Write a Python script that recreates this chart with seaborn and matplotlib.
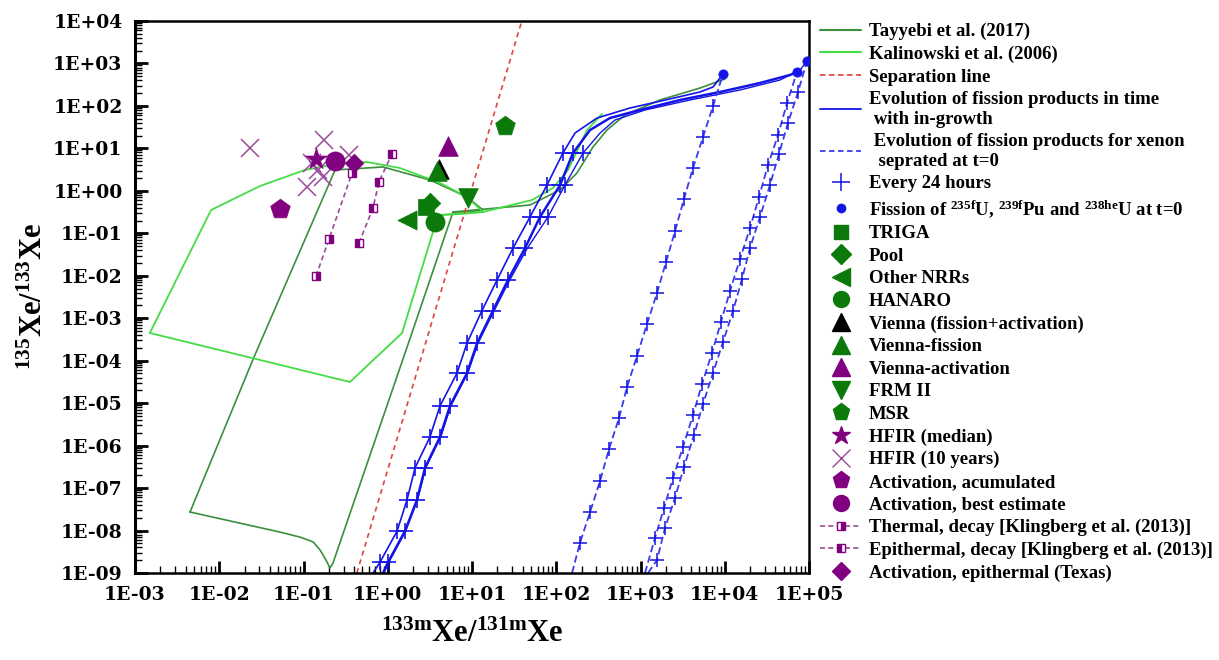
import numpy as np
import pandas as pd
import matplotlib
matplotlib.use("Agg")
import matplotlib.pyplot as plt
import seaborn as sns
from matplotlib.lines import Line2D
from matplotlib.ticker import LogLocator, FuncFormatter, NullFormatter

# ---------------- data ----------------
# Tayyebi et al. (2017) region outline and tail
tay_x = [4.5e-3, 0.025, 0.237, 0.879, 3.17, 8.73, 13.5, 9.47, 5.95, 1.99, 0.224, 0.206, 0.185, 0.157, 0.13, 0.091, 0.0526, 4.5e-3]
tay_y = [2.73e-8, 1.04e-4, 3.10, 3.65, 1.80, 0.716, 0.354, 0.318, 0.318, 5.28e-4, 1.72e-9, 1.31e-9, 2.02e-9, 3.5e-9, 5.4e-9, 7.0e-9, 9.2e-9, 2.73e-8]
tay_tail_x = [5.95, 48.8, 111, 176, 273, 400, 655, 1702, 5080, 10070]
tay_tail_y = [0.318, 0.464, 1.05, 2.63, 10.8, 27.1, 61.1, 138, 264, 431]

# Kalinowski et al. (2006) region outline and tail
kal_x = [1.5e-3, 8.0e-3, 0.0305, 0.104, 0.271, 0.567, 1.40, 4.17, 8.73, 13.5, 7.21, 4.17, 3.44, 1.48, 0.356, 1.5e-3]
kal_y = [4.49e-4, 0.354, 1.30, 3.10, 4.52, 4.78, 3.45, 1.53, 0.716, 0.318, 0.285, 0.27, 0.107, 4.49e-4, 3.15e-5, 4.49e-4]
kal_tail_x = [4.17, 13.5, 51.5, 91.5, 138, 232, 349]
kal_tail_y = [0.27, 0.318, 0.608, 1.17, 3.10, 27.1, 64.6]

# Separation line
sep_x = [0.43, 39]
sep_y = [1e-9, 1e4]

# Evolution with in-growth (solid blue), vertices include the 24 h points
s1_x = [0.668, 0.81, 1.29, 1.69, 2.11, 3.17, 4.17, 6.64, 8.73, 13.1, 19.8, 30.7, 48.8, 77.6, 120, 167, 305, 750, 2240, 5080, 7260, 9530]
s1_y = [1e-9, 1.8e-9, 9.7e-9, 5.2e-8, 3.0e-7, 1.6e-6, 8.6e-6, 5.1e-5, 2.6e-4, 1.5e-3, 7.9e-3, 0.045, 0.242, 1.37, 7.78, 23.0, 51.9, 89.3, 146, 213, 279, 565]
s2_x = [0.879, 1.01, 1.60, 2.22, 2.77, 4.17, 5.48, 8.73, 11.5, 17.7, 26.7, 42.6, 64.1, 111, 158, 252, 434, 986, 2940, 8790, 26200, 59400, 72100]
s2_y = [1e-9, 1.8e-9, 9.7e-9, 5.2e-8, 3.0e-7, 1.6e-6, 8.6e-6, 5.1e-5, 2.6e-4, 1.5e-3, 7.9e-3, 0.045, 0.242, 1.37, 7.78, 27.1, 51.9, 80.2, 138, 213, 347, 535, 629]
s3_x = [0.90, 1.03, 1.63, 2.25, 2.82, 4.25, 5.6, 8.9, 11.8, 18.3, 28.0, 45.5, 79.8, 127, 208, 331, 498, 1130, 3870, 15170, 45300, 78200, 94700]
s3_y = [1e-9, 1.8e-9, 9.7e-9, 5.2e-8, 3.0e-7, 1.6e-6, 8.6e-6, 5.1e-5, 2.6e-4, 1.5e-3, 7.9e-3, 0.045, 0.242, 1.37, 7.78, 23.0, 46.6, 80.2, 138, 237, 408, 701, 1142]

# Xenon separated at t=0 (dashed blue)
d1_x = [154, 191, 252, 331, 423, 556, 692, 908, 1194, 1570, 2010, 2570, 3280, 4200, 5520, 7260, 9530]
d1_y = [1e-9, 5.08e-9, 2.73e-8, 1.47e-7, 8.3e-7, 4.47e-6, 2.4e-5, 1.29e-4, 7.3e-4, 3.93e-3, 0.0211, 0.113, 0.643, 3.45, 18.5, 99.5, 565]
d2_x = [1130, 1486, 1901, 2432, 3193, 4198, 5370, 7060, 9020, 11540, 15170, 19950, 25500, 32600, 42900, 54800, 72100]
d2_y = [1e-9, 6.67e-9, 3.39e-8, 1.73e-7, 9.3e-7, 5.26e-6, 2.82e-5, 1.52e-4, 8.15e-4, 4.38e-3, 0.0248, 0.133, 0.716, 4.06, 20.6, 117, 629]
d3_x = [1227, 1570, 1954, 2566, 3282, 4315, 5520, 7260, 9530, 12530, 16030, 19950, 26200, 34400, 44000, 56300, 74000, 94700]
d3_y = [1e-9, 2.02e-9, 1.15e-8, 5.83e-8, 3.13e-7, 1.78e-6, 9.55e-6, 5.13e-5, 2.75e-4, 1.48e-3, 8.4e-3, 0.0451, 0.242, 1.37, 7.38, 39.6, 213, 1142]

# Fission at t=0
fis_x = [9530, 72100, 94700]
fis_y = [565, 629, 1142]

# Klingberg et al. (2013)
therm_x = [0.141, 0.201, 0.377]
therm_y = [0.0099, 0.0735, 2.63]
epi_x = [0.456, 0.668, 0.787, 1.12]
epi_y = [0.059, 0.394, 1.62, 7.4]

# Reactor / activation points
triga_x, triga_y = [2.84], [0.416]
pool_x, pool_y = [3.17], [0.517]
nrr_x, nrr_y = [1.69], [0.206]
hanaro_x, hanaro_y = [3.64], [0.185]
vfa_x, vfa_y = [4.06], [3.27]
vf_x, vf_y = [3.85], [2.93]
va_x, va_y = [5.19], [11.4]
frm_x, frm_y = [8.96], [0.678]
msr_x, msr_y = [24.7], [33.7]
hfir_med_x, hfir_med_y = [0.141], [5.6]
hfir10_x = [0.0232, 0.175, 0.347, 0.126, 0.149, 0.17, 0.110]
hfir10_y = [10.2, 15.7, 6.98, 4.5, 3.1, 2.12, 1.23]
act_acc_x, act_acc_y = [0.0526], [0.373]
act_best_x, act_best_y = [0.237], [5.05]
texas_x, texas_y = [0.40], [4.5]

x_ticks = [1e-3, 1e-2, 1e-1, 1e0, 1e1, 1e2, 1e3, 1e4, 1e5]
y_ticks = [1e-9, 1e-8, 1e-7, 1e-6, 1e-5, 1e-4, 1e-3, 1e-2, 1e-1, 1e0, 1e1, 1e2, 1e3, 1e4]

# ---------------- style ----------------
sns.set_theme(style="white")
plt.rcParams["font.family"] = ["Liberation Serif", "DejaVu Serif"]
plt.rcParams["font.weight"] = "bold"
plt.rcParams["mathtext.fontset"] = "custom"
plt.rcParams["mathtext.rm"] = "Liberation Serif:bold"
plt.rcParams["mathtext.bf"] = "Liberation Serif:bold"
plt.rcParams["mathtext.it"] = "Liberation Serif:bold:italic"

GREEN = "#0b7a0b"
PURPLE = "#800080"
PURPLE_L = "#9a4a9a"
TAY = "#3c8f3c"
KAL = "#45dc45"
BLUE = "#1414e6"
BLUE_D = "#3a3aee"
RED = "#e04444"

fig = plt.figure(figsize=(12.19, 6.6), dpi=100)
ax = fig.add_axes([135 / 1219, 1 - 573 / 660, 674 / 1219, 552 / 660])
ax.set_xscale("log")
ax.set_yscale("log")


def draw_line(xs, ys, color, lw, ls="-", **kw):
    df = pd.DataFrame({"x": xs, "y": ys})
    sns.lineplot(data=df, x="x", y="y", sort=False, estimator=None, color=color,
                 linewidth=lw, linestyle=ls, ax=ax, legend=False, **kw)


def draw_pts(xs, ys, marker, color, s, z=5):
    df = pd.DataFrame({"x": xs, "y": ys})
    sns.scatterplot(data=df, x="x", y="y", marker=marker, color=color, s=s,
                    edgecolor=color, linewidth=0.5, ax=ax, legend=False, zorder=z)


# regions
draw_line(tay_x, tay_y, TAY, 1.2)
draw_line(tay_tail_x, tay_tail_y, TAY, 1.2)
draw_line(kal_x, kal_y, KAL, 1.3)
draw_line(kal_tail_x, kal_tail_y, KAL, 1.3)

# separation
draw_line(sep_x, sep_y, RED, 1.2, ls=(0, (3, 2.5)))

# in-growth lines with 24 h markers
plus_kw = dict(marker="+", markersize=12, markeredgewidth=1.2, markeredgecolor=BLUE)
draw_line(s1_x, s1_y, BLUE, 1.2, markevery=list(range(1, 15)), **plus_kw)
draw_line(s2_x, s2_y, BLUE, 1.8, markevery=list(range(1, 15)), **plus_kw)
draw_line(s3_x, s3_y, BLUE, 1.0, markevery=[12, 13, 14], **plus_kw)

# separated at t=0
dplus_kw = dict(marker="+", markersize=10, markeredgewidth=1.1, markeredgecolor=BLUE)
for dx, dy in [(d1_x, d1_y), (d2_x, d2_y), (d3_x, d3_y)]:
    draw_line(dx, dy, BLUE_D, 1.3, ls=(0, (4, 2)), markevery=list(range(1, len(dx) - 1)), **dplus_kw)

draw_pts(fis_x, fis_y, "o", BLUE, 45, z=6)

# Klingberg decay lines
sq_kw = dict(marker="s", markersize=6, markeredgewidth=1.0, markeredgecolor=PURPLE,
             markerfacecolor=PURPLE, markerfacecoloralt="white")
draw_line(therm_x, therm_y, PURPLE_L, 1.2, ls=(0, (3, 2)), fillstyle="right", **sq_kw)
draw_line(epi_x, epi_y, PURPLE_L, 1.2, ls=(0, (3, 2)), fillstyle="left", **sq_kw)

# HFIR 10 years (unfilled x)
draw_line(hfir10_x, hfir10_y, PURPLE_L, 0, ls="none", marker="x", markersize=13,
          markeredgewidth=1.1, markeredgecolor=PURPLE_L)

draw_pts(triga_x, triga_y, "s", GREEN, 120)
draw_pts(pool_x, pool_y, "D", GREEN, 110)
draw_pts(nrr_x, nrr_y, "<", GREEN, 190)
draw_pts(hanaro_x, hanaro_y, "o", GREEN, 190)
draw_pts(vfa_x, vfa_y, "^", "black", 200)
draw_pts(vf_x, vf_y, "^", GREEN, 200)
draw_pts(va_x, va_y, "^", PURPLE, 200)
draw_pts(frm_x, frm_y, "v", GREEN, 200)
draw_pts(msr_x, msr_y, "p", GREEN, 220)
draw_pts(hfir_med_x, hfir_med_y, "*", PURPLE, 260)
draw_pts(act_acc_x, act_acc_y, "p", PURPLE, 220)
draw_pts(act_best_x, act_best_y, "o", PURPLE, 190)
draw_pts(texas_x, texas_y, "D", PURPLE, 90)

# ---------------- axes ----------------
ax.set_xlim(1e-3, 1e5)
ax.set_ylim(1e-9, 1e4)
ax.set_xticks(x_ticks)
ax.set_yticks(y_ticks)
fmt = FuncFormatter(lambda v, p: "1E{:+03d}".format(int(round(np.log10(v)))))
ax.xaxis.set_major_formatter(fmt)
ax.yaxis.set_major_formatter(fmt)
ax.xaxis.set_minor_locator(LogLocator(base=10, subs=np.arange(2, 10), numticks=20))
ax.yaxis.set_minor_locator(LogLocator(base=10, subs=np.arange(2, 10), numticks=30))
ax.xaxis.set_minor_formatter(NullFormatter())
ax.yaxis.set_minor_formatter(NullFormatter())
ax.tick_params(which="both", direction="in", left=True, bottom=True, top=False, right=False)
ax.tick_params(which="major", length=9, width=2, color="black", pad=9)
ax.tick_params(which="minor", length=5, width=1, color="black")
for lab in ax.get_xticklabels() + ax.get_yticklabels():
    lab.set_fontfamily("DejaVu Serif")
    lab.set_fontweight("bold")
    lab.set_fontsize(13.5)
    lab.set_color("black")
for side, sp in ax.spines.items():
    sp.set_visible(True)
    sp.set_color("black")
    sp.set_linewidth(2.2 if side == "left" else 1.8)

ax.set_xlabel(r"$^{\mathrm{133m}}$Xe/$^{\mathrm{131m}}$Xe", fontsize=22, fontweight="bold", labelpad=12, color="black")
ax.set_ylabel(r"$^{\mathrm{135}}$Xe/$^{\mathrm{133}}$Xe", fontsize=22, fontweight="bold", labelpad=3, color="black")
ax.grid(False)

# ---------------- legend ----------------
MS = 11.5
handles = [
    Line2D([], [], color=TAY, lw=1.5),
    Line2D([], [], color=KAL, lw=1.5),
    Line2D([], [], color=RED, lw=1.3, ls=(0, (3, 2))),
    Line2D([], [], color=BLUE, lw=1.3),
    Line2D([], [], color=BLUE_D, lw=1.3, ls=(0, (3, 2))),
    Line2D([], [], color=BLUE, ls="none", marker="+", markersize=13, markeredgewidth=1.1),
    Line2D([], [], color=BLUE, ls="none", marker="o", markersize=6),
    Line2D([], [], color=GREEN, ls="none", marker="s", markersize=MS - 1),
    Line2D([], [], color=GREEN, ls="none", marker="D", markersize=MS - 1),
    Line2D([], [], color=GREEN, ls="none", marker="<", markersize=MS + 1),
    Line2D([], [], color=GREEN, ls="none", marker="o", markersize=MS),
    Line2D([], [], color="black", ls="none", marker="^", markersize=MS + 1),
    Line2D([], [], color=GREEN, ls="none", marker="^", markersize=MS + 1),
    Line2D([], [], color=PURPLE, ls="none", marker="^", markersize=MS + 1),
    Line2D([], [], color=GREEN, ls="none", marker="v", markersize=MS + 1),
    Line2D([], [], color=GREEN, ls="none", marker="p", markersize=MS + 1),
    Line2D([], [], color=PURPLE, ls="none", marker="*", markersize=MS + 2),
    Line2D([], [], color=PURPLE_L, ls="none", marker="x", markersize=MS + 1, markeredgewidth=1.0),
    Line2D([], [], color=PURPLE, ls="none", marker="p", markersize=MS + 1),
    Line2D([], [], color=PURPLE, ls="none", marker="o", markersize=MS),
    Line2D([], [], color=PURPLE_L, lw=1.2, ls=(0, (3, 2)), marker="s", markersize=6,
           fillstyle="right", markerfacecolor=PURPLE, markerfacecoloralt="white", markeredgecolor=PURPLE),
    Line2D([], [], color=PURPLE_L, lw=1.2, ls=(0, (3, 2)), marker="s", markersize=6,
           fillstyle="left", markerfacecolor=PURPLE, markerfacecoloralt="white", markeredgecolor=PURPLE),
    Line2D([], [], color=PURPLE, ls="none", marker="D", markersize=MS - 2),
]
labels = [
    "Tayyebi et al. (2017)",
    "Kalinowski et al. (2006)",
    "Separation line",
    "Evolution of fission products in time\n with in-growth",
    " Evolution of fission products for xenon\n  seprated at t=0",
    "Every 24 hours",
    r"Fission of $^{\mathrm{235f}}$U, $^{\mathrm{239f}}$Pu and $^{\mathrm{238he}}$U at t=0",
    "TRIGA",
    "Pool",
    "Other NRRs",
    "HANARO",
    "Vienna (fission+activation)",
    "Vienna-fission",
    "Vienna-activation",
    "FRM II",
    "MSR",
    "HFIR (median)",
    "HFIR (10 years)",
    "Activation, acumulated",
    "Activation, best estimate",
    "Thermal, decay [Klingberg et al. (2013)]",
    "Epithermal, decay [Klingberg et al. (2013)]",
    "Activation, epithermal (Texas)",
]
leg = fig.legend(handles, labels, loc="upper left", bbox_to_anchor=(820 / 1219, 1 - 23 / 660),
                 bbox_transform=fig.transFigure, frameon=False, fontsize=13.5,
                 labelspacing=0.29, handlelength=2.2, handletextpad=0.4,
                 borderpad=0, borderaxespad=0)
for t in leg.get_texts():
    t.set_color("black")
    t.set_fontweight("bold")

fig.savefig("out.png", dpi=100, facecolor="white")
